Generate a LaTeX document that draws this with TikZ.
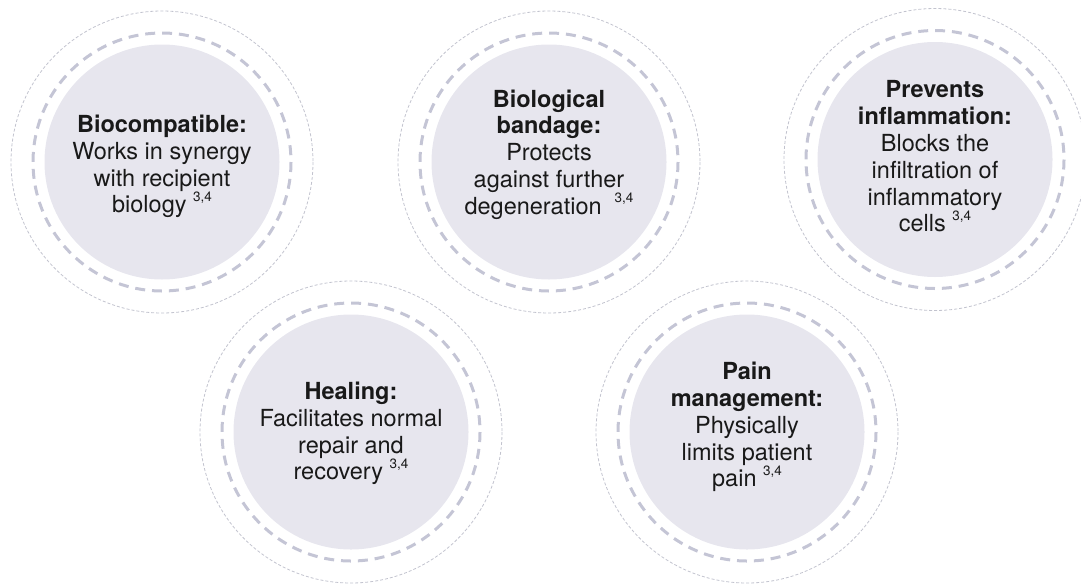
\documentclass[tikz,border=0pt]{standalone}
\usepackage{fontspec}
\setmainfont{TeX Gyre Heros}
\usetikzlibrary{positioning}
\definecolor{discfill}{HTML}{E7E6EE}
\definecolor{ringgray}{HTML}{C4C5D5}
\definecolor{dotgray}{HTML}{C2C3CE}
\newcommand{\refsup}{\raisebox{0.5em}{\fontsize{13.5}{13.5}\selectfont 3,4}}

\begin{document}
\begin{tikzpicture}[x=1pt, y=-1pt,
    disc/.style={circle, fill=discfill, minimum size=235pt, inner sep=0pt},
    dashring/.style={draw=ringgray, line width=3pt, dash pattern=on 10pt off 6.89pt},
    dotring/.style={draw=dotgray, line width=0.8pt, dash pattern=on 3pt off 2pt},
    caption/.style={align=center, text=black!90, font=\fontsize{23.5}{26.8}\selectfont}]
    \useasboundingbox (0,0) rectangle (1081,584);
    % discs
    \node[disc] (bio)  at (162,162) {};
    \node[disc] (band) at (549,162) {};
    \node[disc] (infl) at (935,159.5) {};
    \node[disc] (heal) at (351,432) {};
    \node[disc] (pain) at (747,432) {};
    % rings round each disc
    \foreach \n in {bio,band,infl,heal,pain}{
      \draw[dashring] (\n.center) circle[radius=129];
      \draw[dotring] (\n.center) circle[radius=151];
    }
    % texts
    \node[caption, yshift=-4.6pt] (biotext) at (bio)
      {\textbf{Biocompatible:}\\Works in synergy\\with recipient\\biology \refsup};
    \node[caption, yshift=7.4pt] (bandtext) at (band)
      {\textbf{Biological}\\\textbf{bandage:}\\Protects\\against further\\degeneration\ \ \refsup};
    \node[caption, yshift=3pt] (infltext) at (infl)
      {\textbf{Prevents}\\\textbf{inflammation:}\\Blocks the\\infiltration of\\inflammatory\\cells \refsup};
    \node[caption, yshift=-1.5pt] (healtext) at (heal)
      {\textbf{Healing:}\\Facilitates normal\\repair and\\recovery \refsup};
    \node[caption, yshift=5pt] (paintext) at (pain)
      {\textbf{Pain}\\\textbf{management:}\\Physically\\limits patient\\pain \refsup};
\end{tikzpicture}
\end{document}
